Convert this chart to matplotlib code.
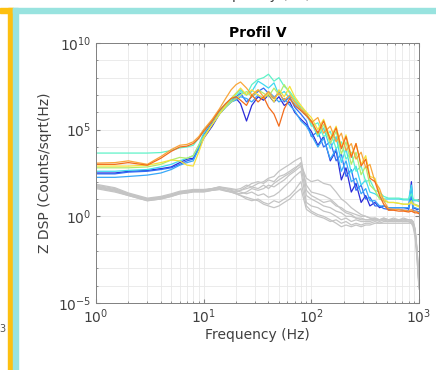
import numpy as np
import matplotlib
matplotlib.use('Agg')
import matplotlib.pyplot as plt
from matplotlib.patches import Rectangle
from matplotlib.ticker import NullFormatter

# frequences communes (Hz)
freq = [1, 1.5, 2, 3, 4, 5, 6, 7, 8, 9,
        10, 12, 14, 16, 18, 20, 22, 25, 28, 32,
        36, 40, 45, 50, 56, 63, 70, 80, 90, 100,
        115, 130, 150, 170, 190, 210, 235, 260, 290, 320,
        350, 390, 430, 470, 520, 580, 650, 720, 800, 850,
        880, 920, 960, 1000]

# courbes colorees (log10 de la DSP)
col_colors = ['#2a2ad8', '#2f6cf5', '#38a8f8', '#3fd9f0', '#5ff2c8',
              '#b2ec6a', '#f6e13a', '#f9a63a', '#f26c1c']
c1 = [2.5, 2.5, 2.6, 2.65, 2.75, 2.85, 3.1, 3.3, 3.35, 3.9,
      4.5, 5.2, 5.9, 6.3, 6.6, 6.8, 6.5, 5.5, 6.4, 6.9,
      6.7, 7.0, 6.6, 6.9, 6.4, 6.6, 6.0, 5.6, 5.3, 4.9,
      4.1, 4.6, 3.2, 3.8, 2.1, 2.8, 1.4, 1.9, 0.8, 1.2,
      0.6, 0.8, 0.5, 0.6, 0.5, 0.5, 0.5, 0.5, 0.45, 2.0,
      0.5, 0.45, 0.4, 0.4]
c2 = [2.45, 2.45, 2.55, 2.6, 2.7, 2.8, 3.0, 3.2, 3.3, 4.0,
      4.7, 5.4, 6.0, 6.4, 6.7, 6.9, 7.1, 6.6, 6.9, 7.2,
      7.4, 7.1, 6.8, 7.2, 6.6, 6.9, 6.3, 5.9, 5.5, 4.6,
      4.9, 4.0, 4.3, 3.2, 3.6, 2.3, 2.7, 1.5, 1.8, 1.0,
      1.1, 0.6, 0.6, 0.45, 0.4, 0.4, 0.4, 0.35, 0.35, 1.2,
      0.35, 0.3, 0.3, 0.25]
c3 = [2.25, 2.25, 2.3, 2.38, 2.5, 2.7, 2.95, 3.1, 3.2, 3.9,
      4.6, 5.3, 5.9, 6.3, 6.6, 6.7, 6.9, 6.8, 6.6, 7.0,
      6.8, 7.2, 6.9, 6.6, 6.8, 6.4, 6.1, 5.5, 5.2, 4.7,
      4.0, 4.5, 3.3, 3.9, 2.6, 3.2, 2.0, 2.2, 1.3, 1.6,
      0.9, 0.9, 0.6, 0.6, 0.5, 0.5, 0.5, 0.5, 0.5, 1.6,
      0.5, 0.5, 0.45, 0.4]
c4 = [2.6, 2.6, 2.65, 2.7, 2.85, 3.0, 3.2, 3.35, 3.5, 4.1,
      4.8, 5.5, 6.1, 6.5, 6.8, 7.1, 7.3, 7.0, 7.2, 7.8,
      7.6, 7.4, 7.7, 7.0, 7.2, 6.8, 6.5, 6.1, 5.8, 5.4,
      4.6, 5.1, 3.9, 4.6, 3.1, 3.9, 2.5, 2.9, 1.8, 2.1,
      1.4, 1.3, 1.1, 1.0, 1.0, 1.0, 1.0, 0.95, 0.95, 1.8,
      0.95, 0.9, 0.9, 0.85]
c5 = [3.65, 3.65, 3.65, 3.65, 3.68, 3.8, 3.95, 4.0, 4.1, 4.5,
      5.0, 5.5, 6.0, 6.4, 6.7, 7.0, 7.2, 7.0, 7.6, 7.9,
      8.0, 8.2, 7.8, 8.0, 7.5, 7.2, 6.8, 6.3, 6.0, 5.2,
      5.4, 4.6, 4.9, 3.9, 4.3, 3.3, 3.7, 2.6, 2.9, 2.0,
      2.1, 1.5, 1.4, 1.15, 1.05, 1.05, 1.05, 1.0, 1.0, 1.3,
      1.0, 0.95, 0.95, 0.9]
c6 = [2.8, 2.8, 2.8, 2.85, 3.0, 3.25, 3.4, 3.35, 3.5, 4.1,
      4.6, 5.3, 5.9, 6.3, 6.6, 6.8, 7.0, 7.2, 6.9, 7.3,
      7.1, 6.9, 7.4, 7.0, 7.6, 7.1, 6.7, 6.2, 5.9, 5.5,
      4.7, 5.3, 4.2, 4.9, 3.6, 4.3, 3.0, 3.7, 2.4, 2.9,
      1.8, 1.5, 1.0, 0.9, 0.8, 0.8, 0.75, 0.7, 0.7, 0.9,
      0.7, 0.7, 0.65, 0.6]
c7 = [2.9, 2.9, 2.9, 2.95, 3.1, 3.25, 3.2, 2.95, 2.9, 3.7,
      4.5, 5.3, 5.9, 6.4, 6.8, 7.1, 7.4, 7.0, 7.3, 7.0,
      6.8, 7.1, 6.6, 7.3, 6.9, 7.5, 6.9, 6.4, 6.0, 5.7,
      5.0, 5.6, 4.5, 5.2, 4.0, 4.7, 3.5, 4.2, 3.0, 3.5,
      2.3, 2.2, 1.3, 1.0, 0.8, 0.8, 0.75, 0.7, 0.7, 0.8,
      0.7, 0.65, 0.6, 0.55]
c8 = [3.07, 3.1, 3.2, 3.0, 3.45, 3.85, 4.1, 4.15, 4.3, 4.6,
      5.0, 5.6, 6.2, 6.8, 7.3, 7.6, 7.75, 7.4, 7.0, 7.3,
      6.9, 7.2, 6.8, 7.1, 6.7, 7.0, 6.6, 6.2, 5.9, 5.4,
      5.7, 4.8, 5.2, 4.3, 4.8, 3.8, 4.2, 3.3, 3.7, 2.8,
      3.0, 2.0, 1.6, 0.9, 0.45, 0.4, 0.4, 0.35, 0.3, 0.4,
      0.3, 0.3, 0.25, 0.2]
c9 = [3.0, 3.0, 3.1, 2.95, 3.35, 3.75, 4.0, 4.05, 4.2, 4.5,
      4.9, 5.5, 6.1, 6.5, 6.8, 6.9, 6.7, 6.4, 7.0, 6.6,
      6.9, 6.3, 5.9, 5.2, 6.2, 6.8, 6.4, 6.1, 5.8, 5.5,
      4.8, 5.5, 4.4, 5.1, 3.9, 4.6, 3.4, 4.2, 2.9, 3.3,
      2.2, 2.0, 1.2, 0.7, 0.35, 0.35, 0.3, 0.3, 0.25, 0.3,
      0.25, 0.2, 0.2, 0.15]

# courbes grises (log10)
g1 = [1.6, 1.4, 1.2, 0.9, 1.0, 1.15, 1.3, 1.35, 1.4, 1.4,
      1.4, 1.5, 1.6, 1.5, 1.4, 1.3, 1.2, 1.1, 1.0, 0.9,
      0.7, 0.6, 0.5, 0.6, 0.8, 1.0, 1.3, 1.6, 0.4, 0.2,
      0.0, -0.1, -0.3, -0.2, -0.4, -0.3, -0.5, -0.4, -0.5, -0.4,
      -0.4, -0.3, -0.4, -0.3, -0.3, -0.3, -0.3, -0.3, -0.3, -0.4,
      -0.5, -0.9, -2.0, -4.0]
g2 = [1.8, 1.6, 1.3, 1.0, 1.1, 1.2, 1.4, 1.45, 1.5, 1.5,
      1.5, 1.6, 1.7, 1.6, 1.5, 1.4, 1.5, 1.6, 1.7, 1.9,
      2.0, 2.2, 2.3, 2.6, 2.8, 3.0, 3.2, 3.4, 1.5, 1.2,
      1.0, 0.8, 0.9, 0.6, 0.5, 0.3, 0.2, 0.1, 0.0, 0.0,
      -0.1, -0.1, -0.2, -0.1, -0.2, -0.2, -0.2, -0.2, -0.2, -0.2,
      -0.3, -0.8, -2.2, -4.0]
g3 = [1.7, 1.5, 1.25, 0.95, 1.05, 1.2, 1.35, 1.4, 1.45, 1.45,
      1.45, 1.55, 1.6, 1.5, 1.45, 1.4, 1.5, 1.7, 1.9, 2.0,
      1.9, 2.1, 2.0, 2.3, 2.4, 2.6, 2.8, 3.0, 2.2, 2.0,
      2.1, 1.9, 1.8, 1.4, 1.0, 0.8, 0.5, 0.3, 0.1, 0.0,
      -0.1, -0.2, -0.2, -0.2, -0.2, -0.3, -0.2, -0.3, -0.3, -0.3,
      -0.4, -0.9, -2.1, -3.8]
g4 = [1.75, 1.55, 1.3, 1.0, 1.1, 1.25, 1.4, 1.45, 1.5, 1.5,
      1.5, 1.6, 1.65, 1.6, 1.55, 1.5, 1.4, 1.3, 1.4, 1.2,
      1.3, 1.1, 1.2, 1.4, 1.7, 2.0, 2.3, 2.6, 0.8, 0.6,
      0.5, 0.3, 0.2, 0.0, -0.2, -0.1, -0.3, -0.2, -0.3, -0.3,
      -0.3, -0.2, -0.3, -0.2, -0.3, -0.2, -0.3, -0.2, -0.3, -0.3,
      -0.4, -1.0, -2.4, -4.2]
g5 = [1.65, 1.45, 1.2, 0.9, 1.0, 1.15, 1.3, 1.35, 1.45, 1.45,
      1.45, 1.5, 1.55, 1.45, 1.4, 1.35, 1.3, 1.4, 1.6, 1.5,
      1.6, 1.8, 1.7, 1.9, 2.1, 2.4, 2.6, 2.9, 1.2, 1.0,
      0.8, 0.6, 0.5, 0.3, 0.2, 0.0, 0.0, -0.1, -0.2, -0.2,
      -0.2, -0.2, -0.2, -0.2, -0.2, -0.2, -0.2, -0.2, -0.2, -0.3,
      -0.3, -0.8, -2.0, -3.6]
g6 = [1.7, 1.5, 1.25, 0.95, 1.05, 1.2, 1.35, 1.4, 1.45, 1.45,
      1.45, 1.5, 1.55, 1.5, 1.4, 1.3, 1.2, 1.0, 0.9, 1.0,
      0.8, 0.7, 0.9, 0.8, 1.0, 1.2, 1.5, 2.0, 0.6, 0.3,
      0.1, 0.0, -0.2, -0.4, -0.6, -0.5, -0.6, -0.5, -0.6, -0.5,
      -0.5, -0.4, -0.4, -0.4, -0.4, -0.4, -0.4, -0.4, -0.4, -0.4,
      -0.6, -1.2, -2.5, -4.1]
g7 = [1.85, 1.65, 1.35, 1.05, 1.15, 1.3, 1.45, 1.5, 1.55, 1.55,
      1.55, 1.6, 1.7, 1.65, 1.6, 1.55, 1.6, 1.8, 1.7, 1.6,
      1.8, 1.6, 1.9, 2.1, 2.3, 2.5, 2.7, 3.1, 1.8, 1.4,
      1.3, 1.2, 1.0, 0.7, 0.4, 0.2, 0.1, -0.1, -0.1, -0.2,
      -0.2, -0.1, -0.2, -0.1, -0.2, -0.1, -0.2, -0.1, -0.2, -0.2,
      -0.3, -0.7, -1.9, -3.9]

colored = [c1, c2, c3, c4, c5, c6, c7, c8, c9]
grays = [g1, g2, g3, g4, g5, g6, g7]

fig = plt.figure(figsize=(4.36, 3.70), dpi=100)

# bandes decoratives (capture d'ecran)
fig.patches.append(Rectangle((0, 1 - 13 / 370), 13 / 436, 5 / 370,
                             transform=fig.transFigure, color='#fdc010', zorder=0))
fig.patches.append(Rectangle((8 / 436, 0), 5 / 436, 1 - 8 / 370,
                             transform=fig.transFigure, color='#fdc010', zorder=0))
fig.patches.append(Rectangle((13 / 436, 0), 5 / 436, 1 - 8 / 370,
                             transform=fig.transFigure, color='#98e3df', zorder=0))
fig.patches.append(Rectangle((13 / 436, 1 - 13 / 370), 1, 5 / 370,
                             transform=fig.transFigure, color='#98e3df', zorder=0))
# restes des figures voisines, coupes par la capture
fig.text(0.592, 1 + 0.5 / 370, 'Frequency (Hz)', ha='center', va='baseline',
         fontsize=10, color='#404040')
fig.text(5 / 436, 1 - 329 / 370, '3', ha='right', va='center',
         fontsize=7, color='#505050')

ax = fig.add_axes([96 / 436, 1 - 303 / 370, 323 / 436, 260 / 370])

f = np.array(freq)
for g in grays:
    ax.plot(f, 10.0 ** np.array(g), color='#c4c4c4', lw=0.9)
for c, col in zip(colored, col_colors):
    ax.plot(f, 10.0 ** np.array(c), color=col, lw=0.9)

ax.set_xscale('log')
ax.set_yscale('log')
ax.set_xlim(1, 1000)
ax.set_ylim(1e-5, 1e10)
ax.set_yticks([1e-5, 1e0, 1e5, 1e10])
ax.set_yticks([10.0 ** k for k in range(-5, 11)], minor=True)
ax.yaxis.set_minor_formatter(NullFormatter())
ax.grid(True, which='both', color='#e8e8e8', lw=0.6)
ax.set_axisbelow(True)
ax.tick_params(which='both', direction='in', top=True, right=True,
               colors='#808080', labelcolor='#404040', labelsize=10)
ax.tick_params(which='major', length=3)
ax.tick_params(which='minor', length=1.5)
for s in ax.spines.values():
    s.set_color('#808080')
    s.set_linewidth(0.7)

ax.set_title('Profil V', fontsize=10, fontweight='bold', pad=4)
ax.set_xlabel('Frequency (Hz)', fontsize=10, color='#404040', labelpad=1)
ax.set_ylabel('Z DSP (Counts/sqrt(Hz)', fontsize=10, color='#404040', labelpad=4)

fig.savefig('out.png', dpi=100)
